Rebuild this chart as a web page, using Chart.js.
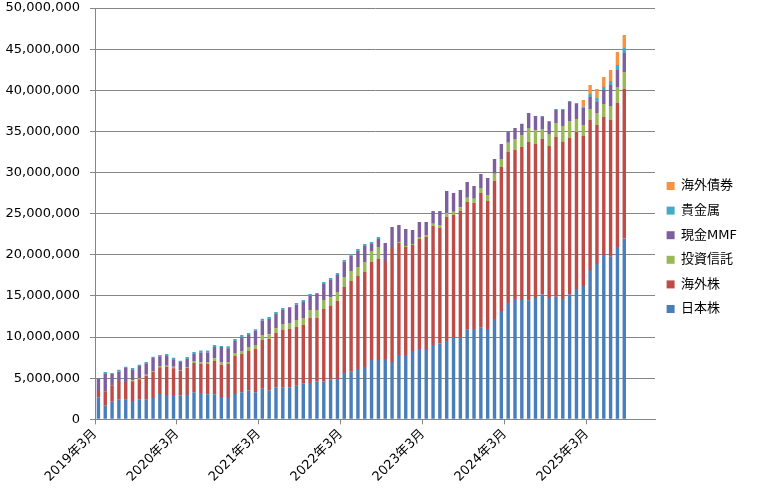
<!DOCTYPE html>
<html lang="ja">
<head>
<meta charset="utf-8">
<title>資産推移</title>
<script src="https://cdn.jsdelivr.net/npm/chart.js@4.4.0/dist/chart.umd.min.js"></script>
<style>
    html, body { margin: 0; padding: 0; background: #fff; }
</style>
</head>
<body>
<canvas id="assetChart" width="761" height="496"></canvas>
<script>
// Months shown (one bar each)
const months = [
    '2019年3月', '2019年4月', '2019年5月', '2019年6月', '2019年7月', '2019年8月', '2019年9月', '2019年10月', '2019年11月', '2019年12月',
    '2020年1月', '2020年2月', '2020年3月', '2020年4月', '2020年5月', '2020年6月', '2020年7月', '2020年8月', '2020年9月', '2020年10月',
    '2020年11月', '2020年12月', '2021年1月', '2021年2月', '2021年3月', '2021年4月', '2021年5月', '2021年6月', '2021年7月', '2021年8月',
    '2021年9月', '2021年10月', '2021年11月', '2021年12月', '2022年1月', '2022年2月', '2022年3月', '2022年4月', '2022年5月', '2022年6月',
    '2022年7月', '2022年8月', '2022年9月', '2022年10月', '2022年11月', '2022年12月', '2023年1月', '2023年2月', '2023年3月', '2023年4月',
    '2023年5月', '2023年6月', '2023年7月', '2023年8月', '2023年9月', '2023年10月', '2023年11月', '2023年12月', '2024年1月', '2024年2月',
    '2024年3月', '2024年4月', '2024年5月', '2024年6月', '2024年7月', '2024年8月', '2024年9月', '2024年10月', '2024年11月', '2024年12月',
    '2025年1月', '2025年2月', '2025年3月', '2025年4月', '2025年5月', '2025年6月', '2025年7月', '2025年8月'
];

// 日本株
const jpStock = [
    2700000, 1660000, 2150000, 2390000, 2390000, 2230000, 2390000, 2430000, 2590000, 3080000,
    2960000, 2960000, 2880000, 2950000, 3280000, 3200000, 3040000, 3040000, 2710000, 2710000,
    3080000, 3280000, 3520000, 3280000, 3720000, 3540000, 3890000, 3890000, 3890000, 4090000,
    4330000, 4410000, 4570000, 4570000, 4820000, 4900000, 5630000, 5770000, 6110000, 6360000,
    7210000, 7210000, 7330000, 6960000, 7810000, 7810000, 8300000, 8540000, 8540000, 9030000,
    9250000, 9520000, 9960000, 9960000, 10890000, 10980000, 11140000, 10980000, 12190000, 13160000,
    14140000, 14630000, 14500000, 14480000, 14740000, 15190000, 14740000, 14910000, 14620000, 15190000,
    15830000, 16200000, 18140000, 18880000, 19970000, 19760000, 20940000, 21990000
];

// 海外株
const fgStock = [
    740000, 1700000, 1980000, 2270000, 2150000, 2390000, 2470000, 2840000, 3200000, 3240000,
    3400000, 3240000, 3000000, 3280000, 3560000, 3520000, 3680000, 4040000, 3930000, 4010000,
    4610000, 4660000, 4780000, 5310000, 5960000, 6240000, 6600000, 6960000, 7080000, 7130000,
    7130000, 7900000, 7740000, 8840000, 9030000, 9480000, 10450000, 11060000, 11310000, 11550000,
    11910000, 12270000, 11910000, 13980000, 13620000, 13130000, 12890000, 13370000, 13620000, 14470000,
    14030000, 15110000, 14880000, 15360000, 15530000, 15310000, 16370000, 15560000, 16820000, 17510000,
    18350000, 18110000, 18600000, 19230000, 18720000, 18880000, 18480000, 19400000, 19090000, 19000000,
    19090000, 18240000, 18240000, 16890000, 16780000, 16620000, 17510000, 18160000
];

// 投資信託
const funds = [
    0, 0, 0, 0, 0, 120000, 120000, 160000, 90000, 160000,
    160000, 200000, 120000, 130000, 240000, 200000, 250000, 360000, 280000, 250000,
    370000, 360000, 490000, 440000, 570000, 570000, 610000, 730000, 740000, 850000,
    850000, 970000, 970000, 1090000, 980000, 1090000, 1220000, 1210000, 1100000, 1210000,
    1340000, 1460000, 0, 0, 120000, 130000, 120000, 170000, 240000, 280000,
    350000, 450000, 400000, 450000, 520000, 530000, 610000, 730000, 850000, 970000,
    1140000, 1330000, 1460000, 1700000, 1660000, 1220000, 1460000, 1710000, 1940000, 2070000,
    1580000, 1340000, 1340000, 1470000, 1580000, 1700000, 1950000, 2070000
];

// 現金MMF
const cashMmf = [
    1500000, 2150000, 1380000, 1130000, 1700000, 1260000, 1500000, 1380000, 1580000, 1180000,
    1260000, 890000, 970000, 970000, 860000, 1220000, 1170000, 1350000, 1870000, 1660000,
    1460000, 1660000, 1460000, 1740000, 1740000, 1860000, 1700000, 1710000, 1820000, 1900000,
    1950000, 1740000, 1950000, 1950000, 2100000, 2070000, 1860000, 1860000, 1940000, 1950000,
    850000, 970000, 2190000, 2440000, 2070000, 2070000, 1700000, 1910000, 1590000, 1540000,
    1700000, 2670000, 2270000, 2110000, 1910000, 1540000, 1700000, 2060000, 1780000, 1830000,
    1340000, 1340000, 1380000, 1830000, 1750000, 1460000, 1460000, 1580000, 1950000, 2310000,
    1830000, 2100000, 1460000, 1330000, 1700000, 2560000, 2060000, 2310000
];

// 貴金属
const metals = [
    0, 240000, 120000, 250000, 160000, 240000, 170000, 160000, 160000, 160000,
    160000, 210000, 160000, 240000, 240000, 240000, 240000, 240000, 120000, 240000,
    240000, 290000, 240000, 170000, 250000, 220000, 240000, 240000, 120000, 170000,
    240000, 210000, 130000, 240000, 250000, 250000, 200000, 200000, 240000, 240000,
    240000, 250000, 0, 0, 0, 0, 0, 0, 0, 0,
    0, 0, 0, 0, 0, 0, 0, 0, 0, 0,
    0, 0, 0, 0, 0, 120000, 120000, 120000, 120000, 120000,
    120000, 120000, 360000, 490000, 370000, 480000, 610000, 610000
];

// 海外債券
const fgBonds = [
    0, 0, 0, 0, 0, 0, 0, 0, 0, 0,
    0, 0, 0, 0, 0, 0, 0, 0, 0, 0,
    0, 0, 0, 0, 0, 0, 0, 0, 0, 0,
    0, 0, 0, 0, 0, 0, 0, 0, 0, 0,
    0, 0, 0, 0, 0, 0, 0, 0, 0, 0,
    0, 0, 0, 0, 0, 0, 0, 0, 0, 0,
    0, 0, 0, 0, 0, 0, 0, 0, 0, 0,
    0, 810000, 1100000, 1090000, 1210000, 1340000, 1580000, 1570000
];

// axis runs through 2025年12月 (82 monthly slots), labelled every 12 months
const axisSlots = 82;
const yMax = 50000000;
const yStep = 5000000;

const gridGray = '#868686';

// put each month in the middle of its slot
function toPoints(values) {
    return values.map((v, i) => ({ x: i + 0.5, y: v }));
}

function makeSeries(label, values, color) {
    return {
        label: label,
        data: toPoints(values),
        backgroundColor: color,
        categoryPercentage: 1,
        barPercentage: 0.5
    };
}

Chart.defaults.font.family = "'DejaVu Sans', 'Noto Sans CJK JP', sans-serif";
Chart.defaults.font.size = 13;
Chart.defaults.color = '#000';

new Chart(document.getElementById('assetChart'), {
    type: 'bar',
    data: {
        datasets: [
            makeSeries('日本株', jpStock, '#4A7EBB'),
            makeSeries('海外株', fgStock, '#BE4B48'),
            makeSeries('投資信託', funds, '#98B954'),
            makeSeries('現金MMF', cashMmf, '#7D5FA0'),
            makeSeries('貴金属', metals, '#46AAC5'),
            makeSeries('海外債券', fgBonds, '#F69240')
        ]
    },
    options: {
        responsive: false,
        animation: false,
        layout: {
            padding: { left: 0, right: 0, top: 8, bottom: 9 }
        },
        plugins: {
            legend: {
                position: 'right',
                reverse: true,
                labels: {
                    boxWidth: 8,
                    boxHeight: 8,
                    padding: 11.6
                }
            }
        },
        scales: {
            x: {
                type: 'linear',
                stacked: true,
                min: 0,
                max: axisSlots,
                offset: false,
                grid: {
                    offset: false,
                    drawOnChartArea: false,
                    tickLength: 5,
                    color: gridGray
                },
                border: { color: gridGray },
                ticks: {
                    stepSize: 12,
                    includeBounds: false,
                    autoSkip: false,
                    minRotation: 45,
                    maxRotation: 45,
                    padding: 2,
                    callback: (value) => months[value]
                },
                // leave room between the plot and the legend
                afterFit: (scale) => { scale.paddingRight = 106; }
            },
            y: {
                stacked: true,
                min: 0,
                max: yMax,
                grid: {
                    color: gridGray,
                    tickLength: 5
                },
                border: { color: gridGray },
                ticks: {
                    stepSize: yStep,
                    padding: 10
                },
                afterFit: (scale) => {
                    scale.width = 95;
                    scale.paddingTop = 0;
                }
            }
        }
    }
});
</script>
</body>
</html>
